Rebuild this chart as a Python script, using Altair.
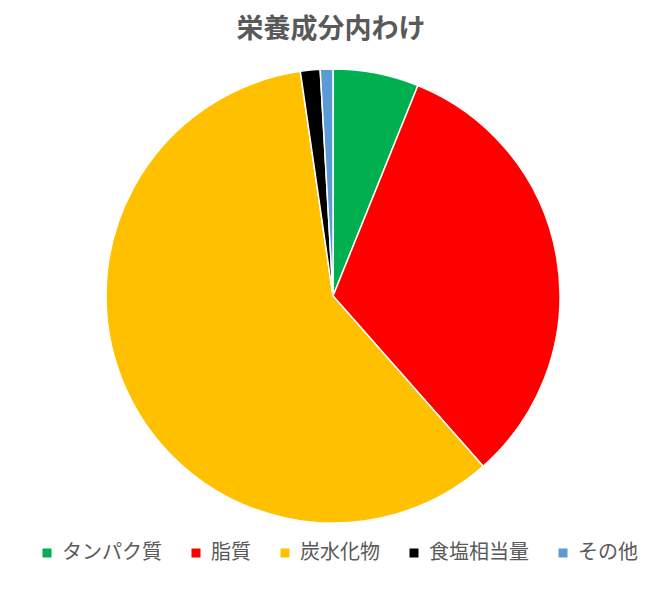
import altair as alt
import pandas as pd

categories = ["タンパク質", "脂質", "炭水化物", "食塩相当量", "その他"]
values = [6.1, 32.4, 59.2, 1.4, 0.9]
colors = ["#00B050", "#FF0000", "#FFC000", "#000000", "#5B9BD5"]
title_text = "栄養成分内わけ"

df = pd.DataFrame({"category": categories, "value": values, "idx": list(range(len(categories)))})

FONT = "Noto Sans CJK JP"

pie = alt.Chart(df).mark_arc(outerRadius=227, stroke="white", strokeWidth=1.5).encode(
    theta=alt.Theta("value:Q", stack=True),
    order=alt.Order("idx:Q", sort="ascending"),
    color=alt.Color(
        "category:N",
        scale=alt.Scale(domain=categories, range=colors),
        sort=categories,
        legend=alt.Legend(
            title=None,
            orient="none",
            direction="horizontal",
            legendX=29,
            legendY=535,
            symbolType="square",
            symbolSize=81,
            symbolStrokeWidth=0,
            labelFont=FONT,
            labelFontSize=20,
            labelColor="#595959",
            labelOffset=5,
            columnPadding=24,
            labelLimit=300,
        ),
    ),
    x=alt.value(325),
    y=alt.value(288),
)

title = alt.Chart(pd.DataFrame({"t": [title_text]})).mark_text(
    font=FONT, fontSize=27, fontWeight="bold", color="#595959", baseline="middle", align="center"
).encode(text="t:N", x=alt.value(323), y=alt.value(22))

chart = alt.layer(pie, title).properties(
    width=640, height=570, autosize=alt.AutoSizeParams(type="none"), padding=0,
    background="white"
).configure_view(strokeWidth=0, stroke=None)

chart.save("out.html", embed_options={"renderer": "svg", "actions": False})
